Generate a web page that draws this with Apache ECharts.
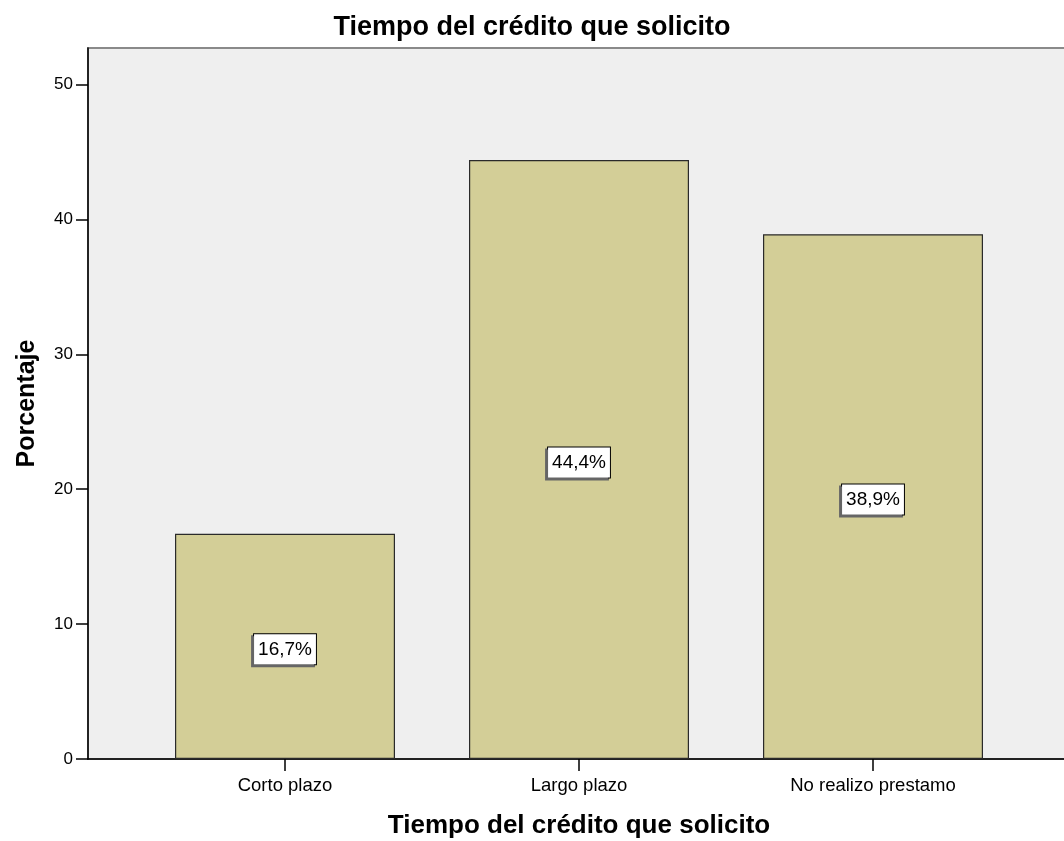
<!DOCTYPE html>
<html>
<head>
<meta charset="utf-8">
<script src="https://cdn.jsdelivr.net/npm/echarts@6/dist/echarts.min.js"></script>
<style>
html,body{margin:0;padding:0;background:#fff;}
#chart{width:1064px;height:841px;}
</style>
</head>
<body>
<div id="chart"></div>
<script>
const categories = ['Corto plazo', 'Largo plazo', 'No realizo prestamo'];
const percentages = [16.7, 44.4, 38.9];
const yTicks = [0, 10, 20, 30, 40, 50];
const titleText = 'Tiempo del crédito que solicito';
const xAxisTitle = 'Tiempo del crédito que solicito';
const yAxisTitle = 'Porcentaje';

const FONT = '"Liberation Sans", Arial, sans-serif';
const YMAX = 52.7;

const chart = echarts.init(document.getElementById('chart'), null, {renderer: 'canvas'});
chart.setOption({
  animation: false,
  backgroundColor: '#ffffff',
  title: {
    text: titleText,
    left: 'center',
    top: 9,
    textStyle: {fontFamily: FONT, fontSize: 27, fontWeight: 'bold', color: '#000'}
  },
  grid: [
    {left: 88, top: 48, bottom: 82, width: 990, show: true, backgroundColor: '#EFEFEF',
     borderColor: '#8a8a8a', borderWidth: 2, outerBoundsMode: 'none'},
    {left: 138, top: 48, bottom: 82, width: 882, outerBoundsMode: 'none'}
  ],
  xAxis: [
    {gridIndex: 0, type: 'value', min: 0, max: 1, show: true,
     axisLine: {show: true, onZero: false, lineStyle: {color: '#000', width: 1.5}},
     axisTick: {show: false}, axisLabel: {show: false}, splitLine: {show: false}},
    {gridIndex: 1, type: 'category', data: categories,
     axisLine: {show: false},
     axisTick: {show: true, alignWithLabel: true, length: 12, lineStyle: {color: '#000', width: 1.5}},
     axisLabel: {fontFamily: FONT, fontSize: 18.5, color: '#000', margin: 17},
     name: xAxisTitle, nameLocation: 'middle', nameGap: 54,
     nameTextStyle: {fontFamily: FONT, fontSize: 26, fontWeight: 'bold', color: '#000'}}
  ],
  yAxis: [
    {gridIndex: 0, type: 'value', min: 0, max: YMAX, interval: 10,
     axisLine: {show: true, onZero: false, lineStyle: {color: '#000', width: 1.5}},
     axisTick: {show: true, length: 12, inside: false, customValues: yTicks, lineStyle: {color: '#000', width: 1.5}},
     axisLabel: {customValues: yTicks, fontFamily: FONT, fontSize: 17, color: '#000', margin: 15,
                 formatter: v => String(v)},
     splitLine: {show: false},
     name: yAxisTitle, nameLocation: 'middle', nameGap: 48, nameRotate: 90,
     nameTextStyle: {fontFamily: FONT, fontSize: 25, fontWeight: 'bold', color: '#000'}},
    {gridIndex: 1, type: 'value', min: 0, max: YMAX, show: false, splitLine: {show: false}}
  ],
  series: [{
    type: 'bar',
    xAxisIndex: 1, yAxisIndex: 1,
    data: percentages,
    barWidth: 220,
    itemStyle: {color: '#D3CE97', borderColor: '#2a2a2a', borderWidth: 1.2},
    label: {
      show: true,
      position: 'inside',
      offset: [0, 3],
      formatter: p => p.value.toFixed(1).replace('.', ',') + '%',
      fontFamily: FONT, fontSize: 19, color: '#000',
      backgroundColor: '#fff', borderColor: '#000', borderWidth: 1,
      padding: [6, 4, 5, 4],
      shadowColor: '#666', shadowOffsetX: -2, shadowOffsetY: 2, shadowBlur: 0
    }
  }]
});
</script>
</body>
</html>
